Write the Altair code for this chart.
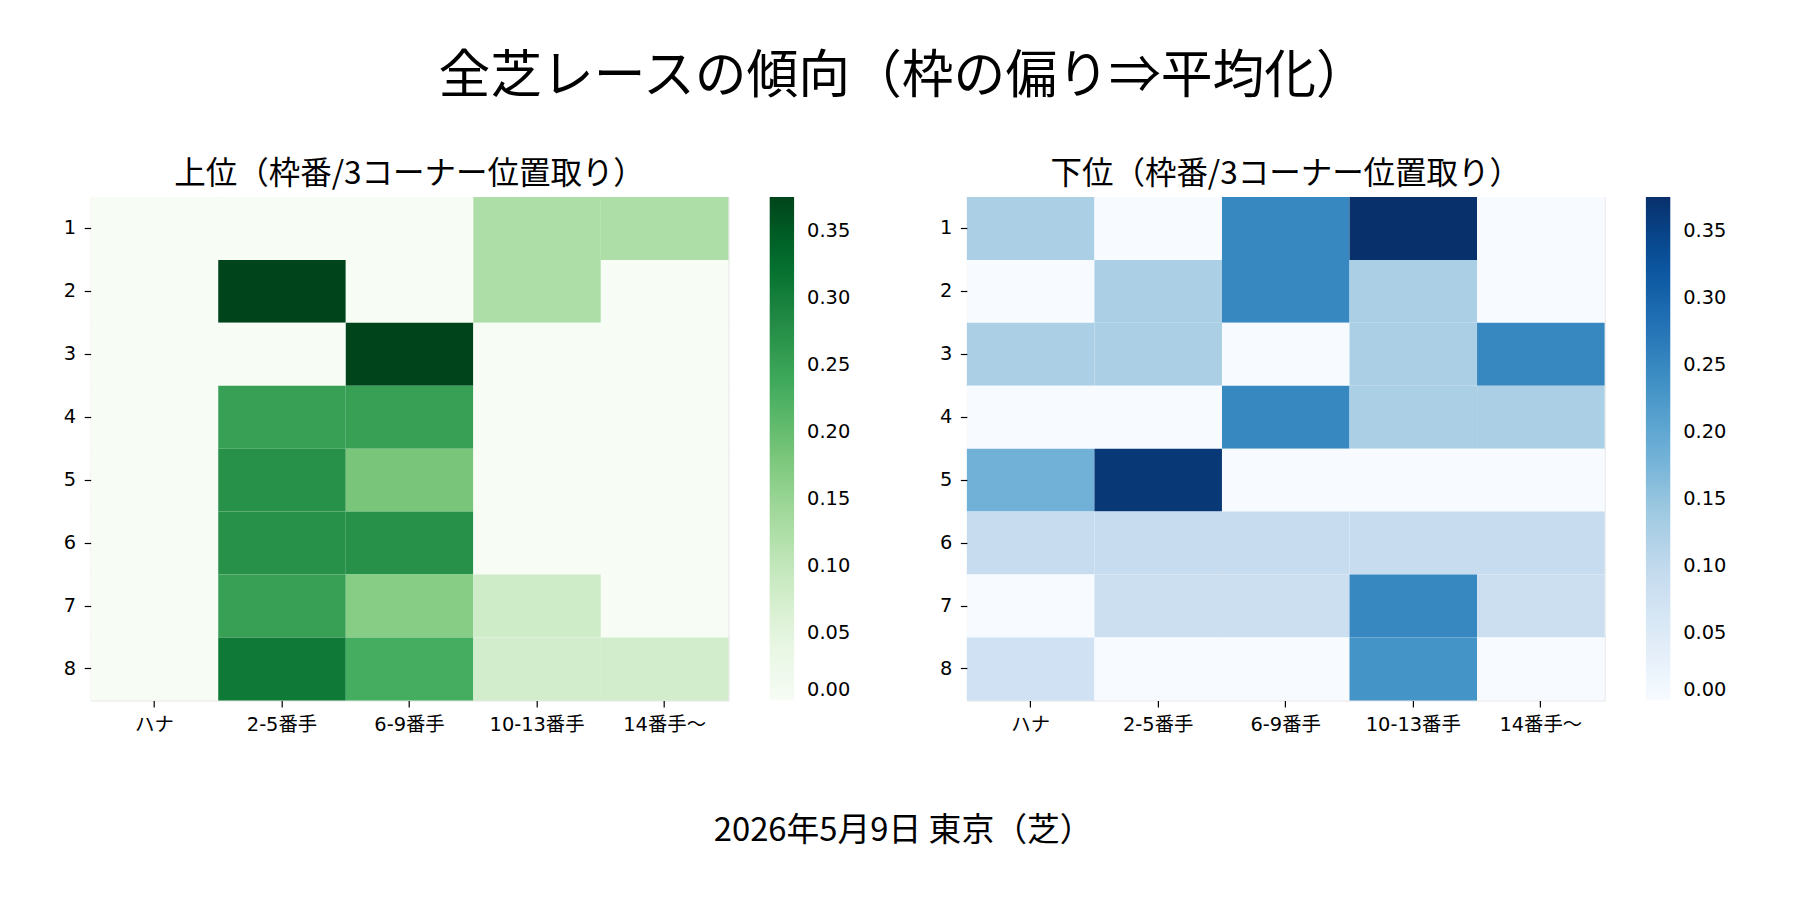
import altair as alt
import pandas as pd

# ---- data ----
positions = ["ハナ", "2-5番手", "6-9番手", "10-13番手", "14番手〜"]
frames = [1, 2, 3, 4, 5, 6, 7, 8]

# 上位 (frame 1..8) per position
upper_hana = [0, 0, 0, 0, 0, 0, 0, 0]
upper_2_5 = [0, 0.375, 0, 0.25, 0.273, 0.273, 0.25, 0.308]
upper_6_9 = [0, 0, 0.375, 0.25, 0.182, 0.273, 0.167, 0.231]
upper_10_13 = [0.125, 0.125, 0, 0, 0, 0, 0.083, 0.077]
upper_14 = [0.125, 0, 0, 0, 0, 0, 0, 0.077]

# 下位 (frame 1..8) per position
lower_hana = [0.125, 0, 0.125, 0, 0.182, 0.091, 0, 0.077]
lower_2_5 = [0, 0.125, 0.125, 0, 0.364, 0.091, 0.083, 0]
lower_6_9 = [0.25, 0.25, 0, 0.25, 0, 0.091, 0.083, 0]
lower_10_13 = [0.375, 0.125, 0.125, 0.125, 0, 0.091, 0.25, 0.231]
lower_14 = [0, 0, 0.25, 0.125, 0, 0.091, 0.083, 0]

color_ticks = [0, 0.05, 0.10, 0.15, 0.20, 0.25, 0.30, 0.35]
color_domain = [0, 0.375]
greens = ["#f7fcf5", "#e5f5e0", "#c7e9c0", "#a1d99b", "#74c476",
          "#41ab5d", "#238b45", "#006d2c", "#00441b"]
blues = ["#f7fbff", "#deebf7", "#c6dbef", "#9ecae1", "#6baed6",
         "#4292c6", "#2171b5", "#08519c", "#08306b"]

main_title = "全芝レースの傾向（枠の偏り⇒平均化）"
upper_title = "上位（枠番/3コーナー位置取り）"
lower_title = "下位（枠番/3コーナー位置取り）"
caption = "2026年5月9日 東京（芝）"


def to_long(cols):
    rows = []
    for pos, vals in zip(positions, cols):
        for f, v in zip(frames, vals):
            rows.append({"position": pos, "frame": f, "value": v})
    return pd.DataFrame(rows)


df_upper = to_long([upper_hana, upper_2_5, upper_6_9, upper_10_13, upper_14])
df_lower = to_long([lower_hana, lower_2_5, lower_6_9, lower_10_13, lower_14])

FONT_NUM = "DejaVu Sans, Noto Sans CJK JP"
FONT_JP = "Noto Sans CJK JP"
LABEL_SIZE = 19.4


def heat(df, palette, title):
    return alt.Chart(df).mark_rect().encode(
        x=alt.X(
            "position:N", sort=positions, title=None,
            axis=alt.Axis(labelAngle=0, domain=False, grid=False, ticks=True,
                          tickSize=6.5, tickWidth=1.2, tickColor="black",
                          labelPadding=9, labelFont=FONT_NUM,
                          labelFontSize=LABEL_SIZE, labelColor="black"),
        ),
        y=alt.Y(
            "frame:O", sort=frames, title=None,
            axis=alt.Axis(labelAngle=0, domain=False, grid=False, ticks=True,
                          tickSize=6.5, tickWidth=1.2, tickColor="black",
                          labelPadding=8.5, labelFont=FONT_NUM,
                          labelFontSize=LABEL_SIZE, labelColor="black"),
        ),
        color=alt.Color(
            "value:Q",
            scale=alt.Scale(domain=color_domain, range=palette, interpolate="rgb"),
            legend=alt.Legend(type="gradient", title=None, values=color_ticks,
                              format=".2f", direction="vertical",
                              gradientLength=503.4, gradientThickness=24.4,
                              gradientStrokeWidth=0, offset=40.6,
                              labelOverlap=False, labelOffset=13,
                              labelFont=FONT_NUM, labelFontSize=LABEL_SIZE,
                              labelColor="black", labelBaseline="middle"),
        ),
    ).properties(
        width=637.7, height=503.4,
        title=alt.TitleParams(title, fontSize=31.5, font=FONT_JP,
                              fontWeight="normal", color="black",
                              offset=-25.6, baseline="bottom"),
    )


row = alt.hconcat(
    heat(df_upper, greens, upper_title),
    heat(df_lower, blues, lower_title),
    spacing=87.2,
).resolve_scale(color="independent").properties(
    title=alt.TitleParams(caption, orient="bottom", fontSize=32.8, font=FONT_JP,
                          fontWeight="normal", color="black", offset=80,
                          baseline="top", anchor="middle", dx=8),
)

chart = alt.vconcat(row).resolve_scale(color="independent").properties(
    title=alt.TitleParams(main_title, fontSize=51.8, font=FONT_JP,
                          fontWeight="normal", color="black", offset=55,
                          baseline="top", anchor="middle", dx=8),
    padding={"left": 54.7, "top": 43, "right": 5, "bottom": 5},
).configure_view(stroke="transparent").configure(background="white")

chart.save("out.html", embed_options={"renderer": "svg", "actions": False})
